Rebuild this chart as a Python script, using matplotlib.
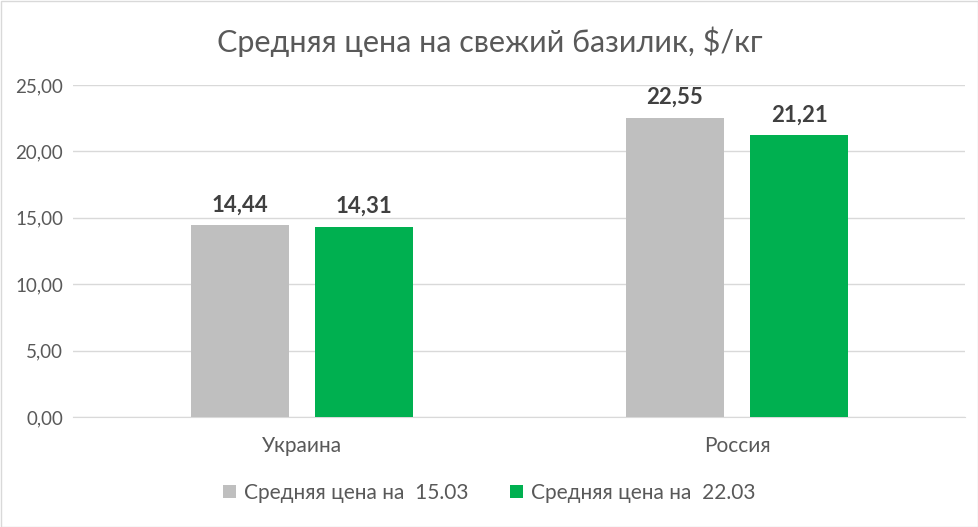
import matplotlib
matplotlib.use("Agg")
import matplotlib.pyplot as plt
import numpy as np

categories = ["Украина", "Россия"]
series_names = ["Средняя цена на  15.03", "Средняя цена на  22.03"]
values_1503 = [14.44, 22.55]
values_2203 = [14.31, 21.21]
yticks = [0, 5, 10, 15, 20, 25]
colors = ["#bfbfbf", "#00b050"]
title = "Средняя цена на свежий базилик, $/кг"

plt.rcParams['font.family'] = ['Lato', 'DejaVu Sans']

fig = plt.figure(figsize=(9.79, 5.27), dpi=100)
ax = fig.add_axes([73/979, 110/527, (965-73)/979, (417-85)/527])

x = np.arange(len(categories))
w = 0.225
off = 0.1425
for i, (vals, col, name) in enumerate(zip([values_1503, values_2203], colors, series_names)):
    pos = x + (-off if i == 0 else off)
    bars = ax.bar(pos, vals, width=w, color=col, label=name, zorder=3)
    for b, v in zip(bars, vals):
        ax.text(b.get_x() + b.get_width()/2, v + 0.75, f"{v:.2f}".replace('.', ','),
                ha='center', va='bottom', fontsize=16, fontweight='bold', color='#404040')

ax.set_xlim(-0.526, 1.524)
ax.set_ylim(0, 25)
ax.set_yticks(yticks)
ax.set_yticklabels([f"{t:.2f}".replace('.', ',') for t in yticks], fontsize=13.5, color='#595959')
ax.set_xticks(x)
ax.set_xticklabels(categories, fontsize=15, color='#595959')
ax.tick_params(axis='both', length=0)
ax.tick_params(axis='x', pad=14)
ax.tick_params(axis='y', pad=7)
ax.grid(axis='y', color='#d9d9d9', linewidth=1, zorder=0)
for s in ['top', 'right', 'left']:
    ax.spines[s].set_visible(False)
ax.spines['bottom'].set_color('#d9d9d9')

fig.text(0.5, 1 - 42/527, title, ha='center', va='center', fontsize=22, color='#595959')

leg = fig.legend(loc='center', bbox_to_anchor=(0.5, 1 - 493/527), ncol=2, frameon=False,
                 fontsize=15, handlelength=0.6, handleheight=0.6, columnspacing=2.0, handletextpad=0.4)
for t in leg.get_texts():
    t.set_color('#595959')

fig.patches.append(plt.Rectangle((0.5/979, 0.5/527), 1 - 1/979, 1 - 1/527, transform=fig.transFigure,
                                 fill=False, edgecolor='#d9d9d9', linewidth=1))
fig.savefig("out.png", dpi=100, facecolor='white')
